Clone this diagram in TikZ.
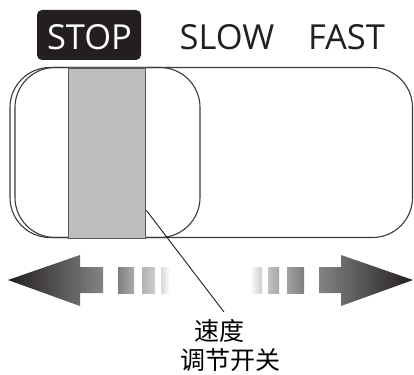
\documentclass[tikz,border=0pt]{standalone}
\usepackage{fontspec}
\usetikzlibrary{calc}
\setmainfont{Open Sans}
\newfontfamily\cjk{Noto Sans CJK SC}
\definecolor{ink}{HTML}{231F20}
\definecolor{frame}{HTML}{3A3A3C}
\definecolor{slfill}{HTML}{BCBEC0}
\definecolor{sldraw}{HTML}{58595B}
\begin{document}
\begin{tikzpicture}[x=1pt,y=-1pt,
  lbl/.style={font=\fontsize{34.5}{36}\selectfont, inner sep=0pt, anchor=base},
  cn/.style={font=\cjk\fontsize{25}{28}\selectfont, inner sep=0pt},
  box/.style={draw=frame, line width=1.1pt, rounded corners=40pt},
]
\useasboundingbox (0,0) rectangle (414,374);
% mode labels
\node[fill=ink, rounded corners=5pt, minimum width=104pt, minimum height=50pt, inner sep=0pt] (stopbox) at (89,35) {};
\node[lbl, text=white] (stop) at (89.5,50) {STOP};
\node[lbl, text=ink] (slow) at (227,50) {SLOW};
\node[lbl, text=ink] (fast) at (346.5,50) {FAST};
% frames
\draw[box] (10,67.5) rectangle (412.5,237.5);
\draw[box] (15,67.5) rectangle (200,237.5);
% slider
\node[draw=sldraw, fill=slfill, line width=1.3pt, minimum width=77pt, minimum height=170pt, inner sep=0pt, anchor=north west] (sl) at (68,67.5) {};
% arrows left
\shade[left color=ink, right color=ink!55!white!70!gray] (8,280) -- (80,255) -- (80,267) -- (103,267) -- (103,293) -- (80,293) -- (80,306) -- cycle;
\shade[left color=black!50, right color=black!33] (118,267) rectangle (134,293);
\shade[left color=black!30, right color=black!20] (142,267) rectangle (155,293);
\shade[left color=black!15, right color=white] (161,267) rectangle (170,293);
% arrows right
\shade[left color=white, right color=black!20] (250,267) rectangle (262,293);
\shade[left color=black!24, right color=black!34] (268,267) rectangle (279,293);
\shade[left color=black!37, right color=black!50] (287,267) rectangle (304,293);
\shade[right color=ink, left color=ink!55!white!70!gray] (413,280) -- (341,255) -- (341,267) -- (319,267) -- (319,293) -- (341,293) -- (341,306) -- cycle;
% label
\node[cn] (t1) at (219,331) {速度};
\node[cn] (t2) at (230,360) {调节开关};
\coordinate (ls) at ($(sl.south east)+(0,-28.5)$);
\coordinate (le) at (224,312);
\draw[ink, line width=0.9pt] (ls) -- (le);
\end{tikzpicture}
\end{document}
